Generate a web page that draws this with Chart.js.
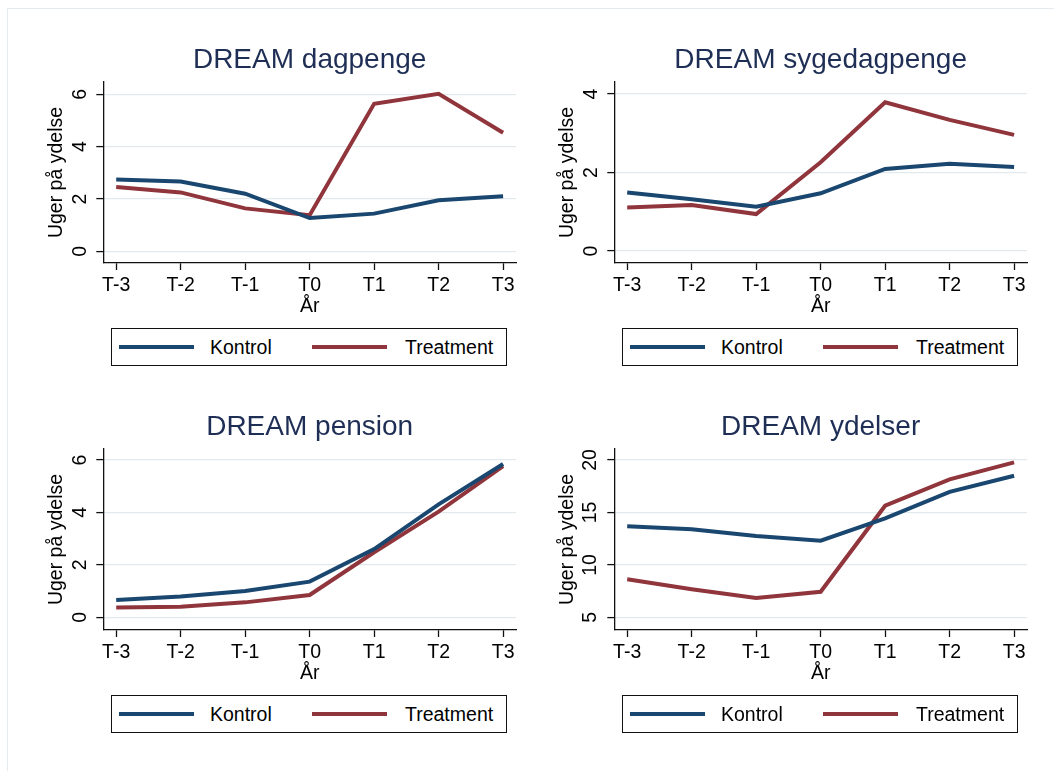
<!DOCTYPE html>
<html>
<head>
<meta charset="utf-8">
<script src="https://cdn.jsdelivr.net/npm/chart.js@4/dist/chart.umd.min.js"></script>
<style>
html,body{margin:0;padding:0;background:#fff;width:1054px;height:771px;overflow:hidden;font-family:"Liberation Sans",Arial,sans-serif;}
#frame{position:absolute;left:7px;top:8px;width:1100px;height:800px;border:1px solid #e4eaed;box-sizing:border-box;}
canvas{position:absolute;}
.legend{position:absolute;border:1px solid #111;box-sizing:border-box;height:38px;width:396px;font-size:19.5px;color:#000;background:#fff;}
.legend .ln{position:absolute;top:16px;height:4px;width:75px;}
.legend .tx{position:absolute;top:0;line-height:36px;white-space:nowrap;}
</style>
</head>
<body>
<div id="frame"></div>
<canvas id="c1" width="527" height="325"></canvas>
<canvas id="c2" width="527" height="325"></canvas>
<canvas id="c3" width="527" height="325"></canvas>
<canvas id="c4" width="527" height="325"></canvas>
<script>
// ---- data ----
const categories = ['T-3', 'T-2', 'T-1', 'T0', 'T1', 'T2', 'T3'];
const seriesNames = ['Kontrol', 'Treatment'];

const dagpengeKontrol   = [2.74, 2.67, 2.20, 1.27, 1.44, 1.95, 2.10];
const dagpengeTreatment = [2.46, 2.25, 1.64, 1.38, 5.64, 6.02, 4.53];

const sygedagpengeKontrol   = [1.49, 1.32, 1.13, 1.47, 2.09, 2.22, 2.14];
const sygedagpengeTreatment = [1.11, 1.17, 0.94, 2.26, 3.79, 3.34, 2.96];

const pensionKontrol   = [0.66, 0.79, 1.00, 1.36, 2.60, 4.31, 5.85];
const pensionTreatment = [0.37, 0.40, 0.57, 0.85, 2.48, 4.03, 5.77];

const ydelserKontrol   = [13.68, 13.39, 12.75, 12.30, 14.44, 16.97, 18.50];
const ydelserTreatment = [8.62, 7.67, 6.84, 7.44, 15.64, 18.16, 19.78];

const yTicksDagpenge = [0, 2, 4, 6];
const yTicksSyge = [0, 2, 4];
const yTicksPension = [0, 2, 4, 6];
const yTicksYdelser = [5, 10, 15, 20];

const titles = ['DREAM dagpenge', 'DREAM sygedagpenge', 'DREAM pension', 'DREAM ydelser'];
const yTitle = 'Uger på ydelse';
const xTitle = 'År';

// ---- style ----
const FONT = "'Liberation Sans', Arial, sans-serif";
const NAVY = '#1a476f';
const MAROON = '#90353b';
const TITLE_COLOR = '#1e2e55';
const GRID = '#e2e9ed';
const AXIS = '#111';

function panel(id, left, top, title, kontrol, treatment, yTicks, yMin, yMax, labelPad) {
  const cv = document.getElementById(id);
  cv.style.left = left + 'px';
  cv.style.top = top + 'px';
  const mk = (vals) => categories.map((c, i) => ({x: i, y: vals[i]}));
  new Chart(cv, {
    type: 'line',
    data: {
      datasets: [
        {label: seriesNames[0], data: mk(kontrol), borderColor: NAVY, backgroundColor: NAVY, borderWidth: 4, pointRadius: 0, tension: 0},
        {label: seriesNames[1], data: mk(treatment), borderColor: MAROON, backgroundColor: MAROON, borderWidth: 4, pointRadius: 0, tension: 0}
      ]
    },
    options: {
      responsive: false, animation: false, events: [],
      layout: {padding: {top: 0, left: 0, right: 11, bottom: 0}},
      plugins: {
        legend: {display: false},
        tooltip: {enabled: false},
        title: {display: true, fullSize: false, text: title, color: TITLE_COLOR,
          font: {family: FONT, size: 28, weight: 'normal'}, padding: {top: 43.8, bottom: 4.6}}
      },
      scales: {
        x: {
          type: 'linear', min: -0.2, max: 6.2,
          afterBuildTicks: a => { a.ticks = categories.map((c, i) => ({value: i})); },
          afterFit: s => { s.height = 62; },
          ticks: {callback: v => categories[v], color: '#000', font: {family: FONT, size: 19.5}, padding: 4, maxRotation: 0, minRotation: 0, autoSkip: false},
          grid: {display: true, drawOnChartArea: false, drawTicks: true, tickLength: 7, tickColor: AXIS, tickWidth: 1.3},
          border: {display: true, color: AXIS, width: 1.3},
          title: {display: true, text: xTitle, color: '#000', font: {family: FONT, size: 19.5}, padding: {top: 0, bottom: 7}}
        },
        y: {
          type: 'linear', min: yMin, max: yMax,
          afterBuildTicks: a => { a.ticks = yTicks.map(v => ({value: v})); },
          afterFit: s => { s.width = 103.3; },
          ticks: {minRotation: 90, maxRotation: 90, crossAlign: 'center', padding: labelPad, color: '#000', font: {family: FONT, size: 19.5}},
          grid: {color: GRID, lineWidth: 1.2, drawTicks: true, tickLength: 7, tickColor: AXIS, tickWidth: 1.3},
          border: {display: true, color: AXIS, width: 1.3},
          title: {display: true, text: yTitle, color: '#000', font: {family: FONT, size: 19.5}, padding: {top: 45, bottom: 0}}
        }
      }
    }
  });
  // legend (HTML)
  const lg = document.createElement('div');
  lg.className = 'legend';
  lg.style.left = (left + 111) + 'px';
  lg.style.top = (top + 328) + 'px';
  lg.innerHTML =
    '<div class="ln" style="left:7px;background:' + NAVY + '"></div>' +
    '<div class="tx" style="left:98px">' + seriesNames[0] + '</div>' +
    '<div class="ln" style="left:200px;background:' + MAROON + '"></div>' +
    '<div class="tx" style="left:293px">' + seriesNames[1] + '</div>';
  document.body.appendChild(lg);
}

panel('c1', 0, 0, titles[0], dagpengeKontrol, dagpengeTreatment, yTicksDagpenge, -0.447, 6.47, 10.5);
panel('c2', 511, 0, titles[1], sygedagpengeKontrol, sygedagpengeTreatment, yTicksSyge, -0.306, 4.306, 10.5);
panel('c3', 0, 367, titles[2], pensionKontrol, pensionTreatment, yTicksPension, -0.484, 6.42, 10.5);
panel('c4', 511, 367, titles[3], ydelserKontrol, ydelserTreatment, yTicksYdelser, 3.79, 21.05, 5.5);
</script>
</body>
</html>
